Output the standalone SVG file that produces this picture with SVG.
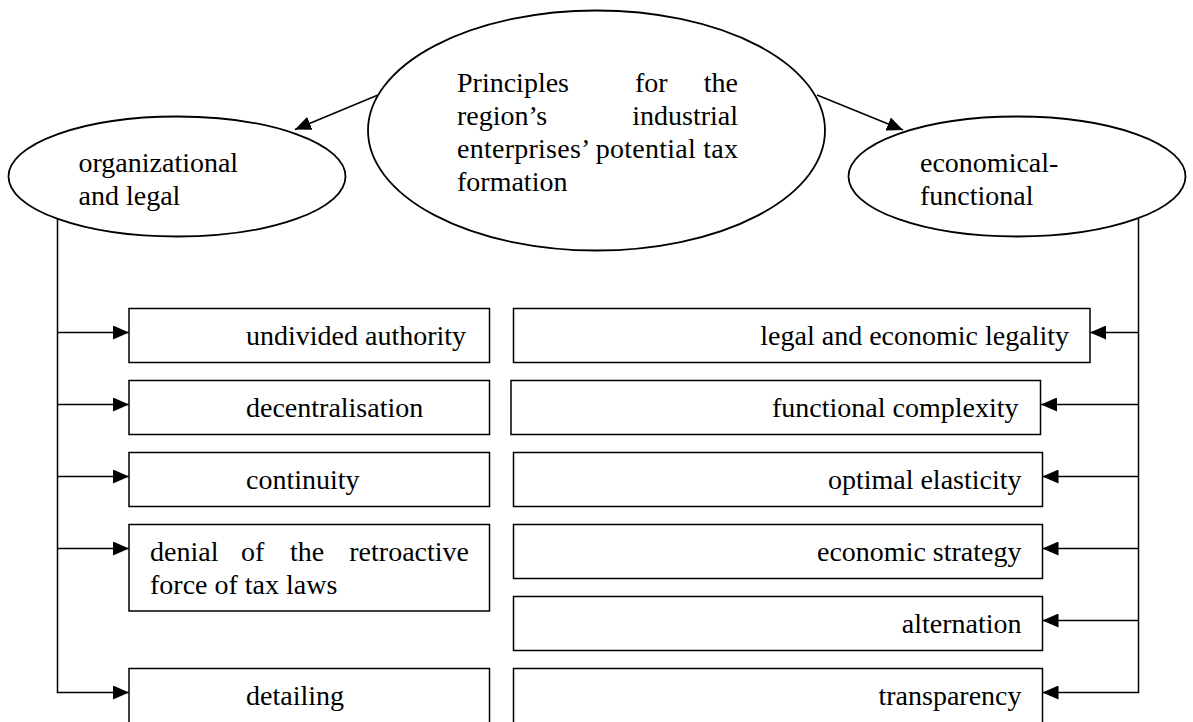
<svg xmlns="http://www.w3.org/2000/svg" width="1193" height="722" viewBox="0 0 1193 722">
<defs>
<style>
.shape{fill:#fff;stroke:#000;stroke-width:1.5}
.ell{fill:#fff;stroke:#000;stroke-width:1.8}
.ln{fill:none;stroke:#000;stroke-width:1.5}
text{font-family:"Liberation Serif","Times New Roman",serif;font-size:28px;fill:#000}
.e{text-anchor:end}
</style>
<marker id="ah" markerUnits="userSpaceOnUse" markerWidth="16" markerHeight="14" refX="16" refY="7" orient="auto" viewBox="0 0 16 14">
<path d="M0,0 L16,7 L0,14 z" fill="#000"/>
</marker>
</defs>
<rect width="1193" height="722" fill="#fff"/>

<g id="connectors">
<line class="ln" x1="378" y1="95" x2="295" y2="129.5" marker-end="url(#ah)"/>
<line class="ln" x1="817" y1="95" x2="903" y2="130" marker-end="url(#ah)"/>
<polyline class="ln" points="57.5,215 57.5,692.5"/>
<line class="ln" x1="57.5" y1="332.5" x2="129" y2="332.5" marker-end="url(#ah)"/>
<line class="ln" x1="57.5" y1="404.5" x2="129" y2="404.5" marker-end="url(#ah)"/>
<line class="ln" x1="57.5" y1="476.5" x2="129" y2="476.5" marker-end="url(#ah)"/>
<line class="ln" x1="57.5" y1="548.5" x2="129" y2="548.5" marker-end="url(#ah)"/>
<line class="ln" x1="56.75" y1="692.5" x2="129" y2="692.5" marker-end="url(#ah)"/>
<polyline class="ln" points="1138.5,219 1138.5,692.5"/>
<line class="ln" x1="1138.5" y1="332.5" x2="1090" y2="332.5" marker-end="url(#ah)"/>
<line class="ln" x1="1138.5" y1="404.5" x2="1041" y2="404.5" marker-end="url(#ah)"/>
<line class="ln" x1="1138.5" y1="476.5" x2="1042.5" y2="476.5" marker-end="url(#ah)"/>
<line class="ln" x1="1138.5" y1="548.5" x2="1042.5" y2="548.5" marker-end="url(#ah)"/>
<line class="ln" x1="1138.5" y1="620.5" x2="1042.5" y2="620.5" marker-end="url(#ah)"/>
<line class="ln" x1="1139.25" y1="692.5" x2="1042.5" y2="692.5" marker-end="url(#ah)"/>
</g>

<g id="node-center">
<ellipse class="ell" cx="596.5" cy="130.5" rx="228.5" ry="120"/>
<text x="457" y="92">Principles</text>
<text x="635" y="92">for</text>
<text class="e" x="738" y="92">the</text>
<text x="457" y="125">region’s</text>
<text class="e" x="738" y="125">industrial</text>
<text x="457" y="158" textLength="281" lengthAdjust="spacing">enterprises’ potential tax</text>
<text x="457" y="191">formation</text>
</g>

<g id="node-left">
<ellipse class="ell" cx="177" cy="176.5" rx="168.5" ry="60"/>
<text x="78.5" y="172">organizational</text>
<text x="78.5" y="205">and legal</text>
</g>

<g id="node-right">
<ellipse class="ell" cx="1017" cy="176.5" rx="168.5" ry="60"/>
<text x="920" y="172">economical-</text>
<text x="920" y="205">functional</text>
</g>

<g id="box-undivided">
<rect class="shape" x="129" y="308.5" width="360.5" height="54"/>
<text x="246" y="344.5">undivided authority</text>
</g>
<g id="box-decentralisation">
<rect class="shape" x="129" y="380.5" width="360.5" height="54"/>
<text x="246" y="416.5">decentralisation</text>
</g>
<g id="box-continuity">
<rect class="shape" x="129" y="452.5" width="360.5" height="54"/>
<text x="246" y="488.5">continuity</text>
</g>
<g id="box-denial">
<rect class="shape" x="129" y="524.5" width="360.5" height="86.5"/>
<text x="150" y="561">denial</text>
<text x="241" y="561">of</text>
<text x="290" y="561">the</text>
<text class="e" x="469" y="561">retroactive</text>
<text x="150" y="594">force of tax laws</text>
</g>
<g id="box-detailing">
<rect class="shape" x="129" y="668.5" width="360.5" height="60"/>
<text x="246" y="704.5">detailing</text>
</g>

<g id="box-legality">
<rect class="shape" x="513.5" y="308.5" width="576.5" height="54"/>
<text class="e" x="1069" y="344.5">legal and economic legality</text>
</g>
<g id="box-complexity">
<rect class="shape" x="511" y="380.5" width="529.5" height="54"/>
<text class="e" x="1018.5" y="416.5">functional complexity</text>
</g>
<g id="box-elasticity">
<rect class="shape" x="513.5" y="452.5" width="529" height="54"/>
<text class="e" x="1021.5" y="488.5">optimal elasticity</text>
</g>
<g id="box-strategy">
<rect class="shape" x="513.5" y="524.5" width="529" height="54"/>
<text class="e" x="1021.5" y="560.5">economic strategy</text>
</g>
<g id="box-alternation">
<rect class="shape" x="513.5" y="596.5" width="529" height="54"/>
<text class="e" x="1021.5" y="632.5">alternation</text>
</g>
<g id="box-transparency">
<rect class="shape" x="513.5" y="668.5" width="529" height="60"/>
<text class="e" x="1021.5" y="704.5">transparency</text>
</g>
</svg>
